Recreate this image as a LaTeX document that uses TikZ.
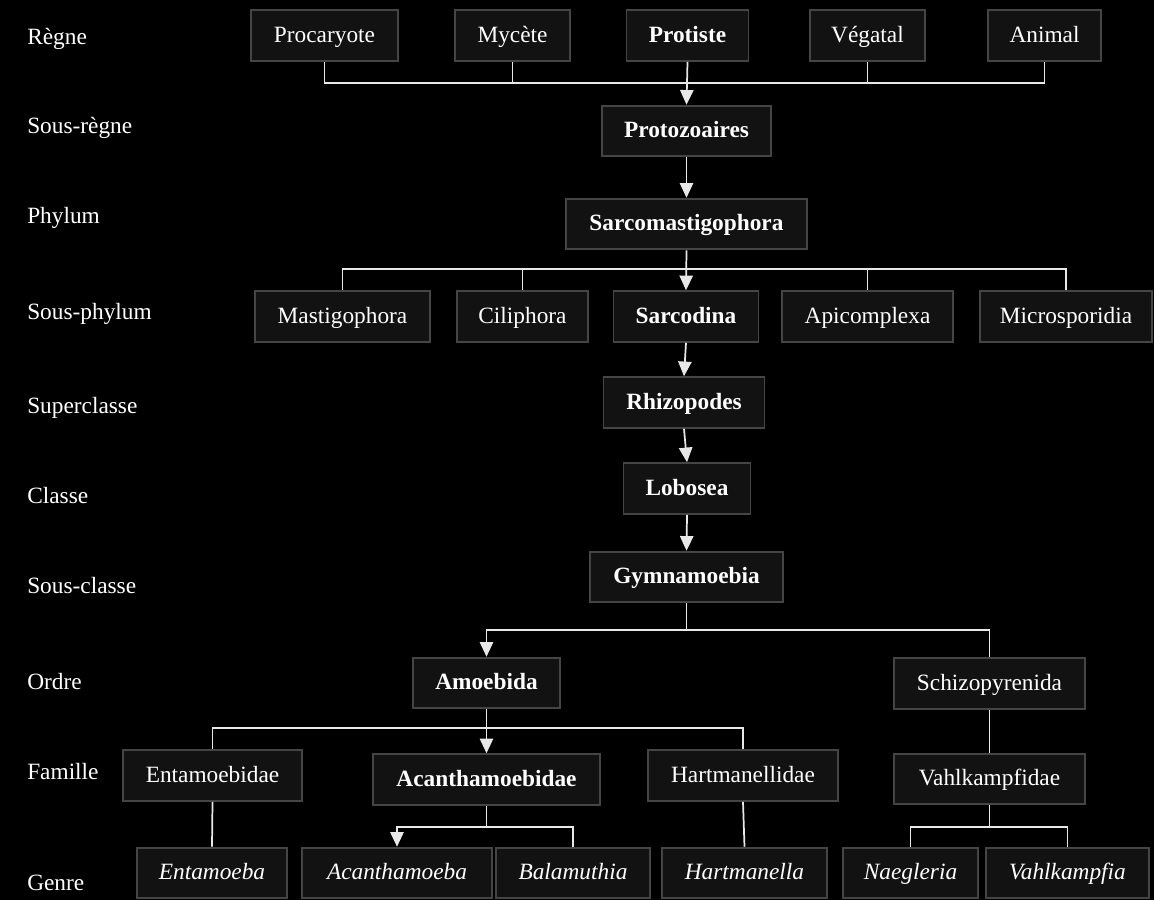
\documentclass[tikz,border=0pt]{standalone}
\usepackage{fontspec}
\setmainfont{Liberation Serif}
\usetikzlibrary{arrows.meta}
\definecolor{boxfill}{HTML}{121212}
\definecolor{boxline}{HTML}{454545}
\definecolor{wire}{HTML}{E8E8E8}
\newcommand{\rankfont}{\fontsize{17.5}{21}\selectfont}
\begin{document}
\begin{tikzpicture}[x=0.75pt,y=-0.75pt,
	taxon/.style={draw=boxline,line width=1.4pt,fill=boxfill,text=white,font=\rankfont,inner sep=0pt,text height=13pt,text depth=3pt,minimum height=38pt,minimum width=#1*0.75pt},
	lineage/.style={font=\rankfont\bfseries},
	genus/.style={font=\rankfont\itshape},
	rank/.style={anchor=west,text=white,font=\rankfont,inner sep=0pt,text height=13pt,text depth=3pt},
	link/.style={draw=wire,line width=1.3pt},
	arrow/.style={link,-{Triangle[width=10pt,length=11pt]}}]
	\fill[black] (0,0) rectangle (1154,900);
	% rank labels
	\node[rank] (r-regne) at (27,38) {Règne};
	\node[rank] (r-sousregne) at (27,127) {Sous-règne};
	\node[rank] (r-phylum) at (27,217) {Phylum};
	\node[rank] (r-sousphylum) at (27,313) {Sous-phylum};
	\node[rank] (r-superclasse) at (27,407) {Superclasse};
	\node[rank] (r-classe) at (27,497) {Classe};
	\node[rank] (r-sousclasse) at (27,587) {Sous-classe};
	\node[rank] (r-ordre) at (27,683) {Ordre};
	\node[rank] (r-famille) at (27,773) {Famille};
	\node[rank] (r-genre) at (27,884) {Genre};
	% regne
	\node[taxon=147] (procaryote) at (324.5,35.5) {Procaryote};
	\node[taxon=115] (mycete) at (512.5,35.5) {Mycète};
	\node[taxon=122,lineage] (protiste) at (687.5,35.5) {Protiste};
	\node[taxon=115] (vegetal) at (867.5,35.5) {Végatal};
	\node[taxon=113] (animal) at (1044.5,35.5) {Animal};
	% tronc
	\node[taxon=169,lineage] (protozoaires) at (686.5,131) {Protozoaires};
	\node[taxon=241,lineage] (sarcomastigophora) at (686.5,224) {Sarcomastigophora};
	% sous-phylum
	\node[taxon=175] (mastigophora) at (342.5,316.5) {Mastigophora};
	\node[taxon=131] (ciliphora) at (522.5,316.5) {Ciliphora};
	\node[taxon=145,lineage] (sarcodina) at (686,316.5) {Sarcodina};
	\node[taxon=171] (apicomplexa) at (867.5,316.5) {Apicomplexa};
	\node[taxon=172] (microsporidia) at (1066,316.5) {Microsporidia};
	\node[taxon=161,lineage] (rhizopodes) at (684,402.5) {Rhizopodes};
	\node[taxon=127,lineage] (lobosea) at (687,488.5) {Lobosea};
	\node[taxon=193,lineage] (gymnamoebia) at (686.5,577) {Gymnamoebia};
	% ordre
	\node[taxon=147,lineage] (amoebida) at (486.5,683) {Amoebida};
	\node[taxon=191] (schizopyrenida) at (989.5,683.5) {Schizopyrenida};
	% famille
	\node[taxon=179] (entamoebidae) at (212.5,775.5) {Entamoebidae};
	\node[taxon=227,lineage] (acanthamoebidae) at (486.5,779.5) {Acanthamoebidae};
	\node[taxon=190] (hartmanellidae) at (743,775.5) {Hartmanellidae};
	\node[taxon=191] (vahlkampfidae) at (989.5,779) {Vahlkampfidae};
	% genre
	\node[taxon=150,genus] (entamoeba) at (212,873) {Entamoeba};
	\node[taxon=190,genus] (acanthamoeba) at (397,873) {Acanthamoeba};
	\node[taxon=154,genus] (balamuthia) at (573,873) {Balamuthia};
	\node[taxon=165,genus] (hartmanella) at (744.5,873) {Hartmanella};
	\node[taxon=135,genus] (naegleria) at (910.5,873) {Naegleria};
	\node[taxon=163,genus] (vahlkampfia) at (1067.5,873) {Vahlkampfia};
	% bus levels
	\coordinate (bus1) at (0,83);
	\coordinate (bus2) at (0,269);
	\coordinate (bus3) at (0,630);
	\coordinate (bus4) at (0,728);
	\coordinate (bus5) at (0,827);
	% connectors
	\draw[link] (procaryote.south) |- (bus1 -| animal.south) -- (animal.south);
	\foreach \n in {mycete,protiste,vegetal}
		\draw[link] (\n.south) -- (\n.south |- bus1);
	\draw[arrow] (protiste.south) -- (protozoaires.north);
	\draw[arrow] (protozoaires.south) -- (sarcomastigophora.north);
	\draw[link] (mastigophora.north) |- (bus2 -| microsporidia.north) -- (microsporidia.north);
	\foreach \n in {ciliphora,apicomplexa}
		\draw[link] (\n.north) -- (\n.north |- bus2);
	\draw[arrow] (sarcomastigophora.south) -- (sarcodina.north);
	\draw[arrow] (sarcodina.south) -- (rhizopodes.north);
	\draw[arrow] (rhizopodes.south) -- (lobosea.north);
	\draw[arrow] (lobosea.south) -- (gymnamoebia.north);
	\draw[arrow] (gymnamoebia.south) -- (gymnamoebia.south |- bus3) -| (amoebida.north);
	\draw[link] (gymnamoebia.south |- bus3) -| (schizopyrenida.north);
	\draw[link] (entamoebidae.north) |- (bus4 -| hartmanellidae.north) -- (hartmanellidae.north);
	\draw[arrow] (amoebida.south) -- (acanthamoebidae.north);
	\draw[link] (schizopyrenida.south) -- (vahlkampfidae.north);
	\draw[link] (entamoebidae.south) -- (entamoeba.north);
	\draw[link] (hartmanellidae.south) -- (hartmanella.north);
	\draw[link] (acanthamoebidae.south) -- (acanthamoebidae.south |- bus5);
	\draw[arrow] (acanthamoebidae.south |- bus5) -| (acanthamoeba.north);
	\draw[link] (acanthamoebidae.south |- bus5) -| (balamuthia.north);
	\draw[link] (naegleria.north) |- (bus5 -| vahlkampfia.north) -- (vahlkampfia.north);
	\draw[link] (vahlkampfidae.south) -- (vahlkampfidae.south |- bus5);
\end{tikzpicture}
\end{document}
